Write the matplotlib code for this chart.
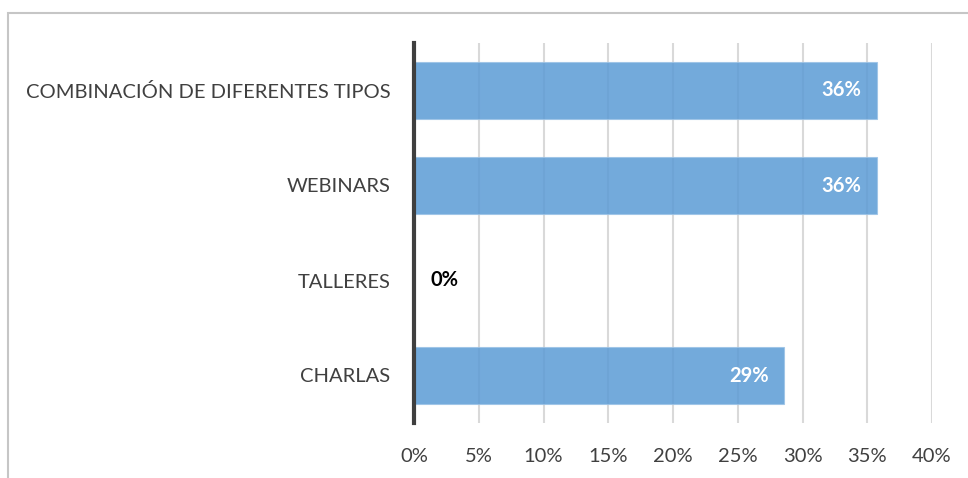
import matplotlib.pyplot as plt
from matplotlib.patches import Rectangle
from matplotlib.ticker import FuncFormatter

plt.rcParams['font.family'] = ['Lato', 'DejaVu Sans']

categorias = ["CHARLAS", "TALLERES", "WEBINARS", "COMBINACIÓN DE DIFERENTES TIPOS"]
valores = [4 / 14, 0.0, 5 / 14, 5 / 14]
etiquetas = ["29%", "0%", "36%", "36%"]
ticks_x = [0, 0.05, 0.10, 0.15, 0.20, 0.25, 0.30, 0.35, 0.40]

fig = plt.figure(figsize=(9.68, 4.78), dpi=100)
ax = fig.add_axes([414 / 968, 1 - 423 / 478, 518 / 968, 380 / 478])

# marco gris del gráfico
fig.patches.append(Rectangle((8 / 968, -0.1), 1.2, 1 - 13 / 478 + 0.1,
                             transform=fig.transFigure, fill=False,
                             edgecolor="#c6c6c6", linewidth=1.5))

y = range(len(categorias))
ax.barh(y, valores, height=0.6, color="#5b9bd5", alpha=0.85,
        edgecolor="#9cc3e6", linewidth=0.8, zorder=3)

for i, (v, txt) in enumerate(zip(valores, etiquetas)):
    if v > 0:
        ax.text(v - 0.012, i, txt, ha="right", va="center", color="white",
                fontsize=14.5, fontweight="bold", zorder=4)
    else:
        ax.text(0.0125, i, txt, ha="left", va="center", color="black",
                fontsize=14.5, fontweight="bold", zorder=4)

ax.set_xlim(0, 0.40)
ax.set_ylim(-0.5, 3.5)
ax.set_xticks(ticks_x)
ax.xaxis.set_major_formatter(FuncFormatter(lambda v, p: f"{v * 100:.0f}%"))
ax.set_yticks(list(y))
ax.set_yticklabels(categorias)
ax.grid(axis="x", color="#d9d9d9", linewidth=1.5, zorder=0)
ax.tick_params(axis="both", length=0, labelsize=14.5, labelcolor="#404040")
ax.tick_params(axis="x", pad=18)
ax.tick_params(axis="y", pad=17)

for s in ["top", "right", "bottom"]:
    ax.spines[s].set_visible(False)
ax.spines["left"].set_color("#3f3f3f")
ax.spines["left"].set_linewidth(3)
ax.spines["left"].set_zorder(5)

fig.savefig("out.png", dpi=100)
